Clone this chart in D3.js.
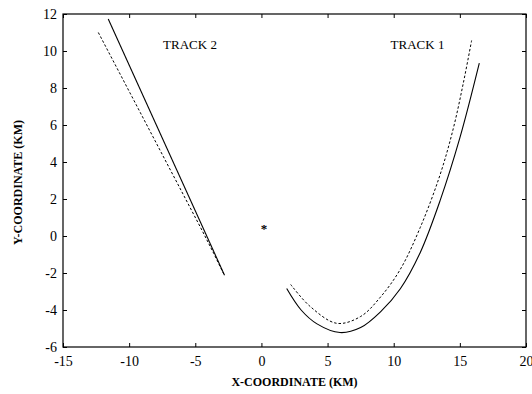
<!DOCTYPE html>
<html><head><meta charset="utf-8">
<script src="https://cdn.jsdelivr.net/npm/d3@7"></script>
<style>body{margin:0;background:#fff}svg{display:block}text{font-family:"Liberation Serif","Times New Roman",serif;fill:#000}</style>
</head><body><svg id="c" width="532" height="394"></svg>
<script>
const xTicks = [-15,-10,-5,0,5,10,15,20];
const yTicks = [-6,-4,-2,0,2,4,6,8,10,12];
// Track 2 (straight segments)
const track2Solid = [[-11.58,11.73],[-2.79,-2.12]];
const track2Dashed = [[-12.33,11.0],[-4.5,0.32],[-3.6,-0.95],[-2.85,-2.05]];
// Track 1 (curved)
const track1Solid = [[1.91,-2.84],[3.0,-4.0],[4.2,-4.75],[5.94,-5.22],[7.5,-4.95],[9.0,-4.1],[10.5,-2.85],[12.0,-0.9],[13.5,1.9],[15.0,5.3],[16.47,9.34]];
const track1Dashed = [[2.21,-2.62],[3.67,-3.8],[5.7,-4.72],[7.5,-4.35],[9.0,-3.3],[10.5,-1.8],[12.0,0.45],[13.5,3.3],[14.5,5.8],[15.26,8.26],[15.89,10.57]];
const star = [[0.2,0.5]];
const labels = [{t:"TRACK 2",x:-5.4,y:10.12},{t:"TRACK 1",x:11.8,y:10.12}];

const svg = d3.select("#c");
const L=63,R=526,T=14,B=347;
const x = d3.scaleLinear().domain([-15,20]).range([L,R]);
const y = d3.scaleLinear().domain([-6,12]).range([B,T]);
const tl = 4;
const fmt = d => String(d);
const axB = d3.axisBottom(x).tickValues(xTicks).tickSize(-tl).tickPadding(9).tickFormat(fmt);
const axL = d3.axisLeft(y).tickValues(yTicks).tickSize(-tl).tickPadding(6).tickFormat(fmt);
const axT = d3.axisTop(x).tickValues(xTicks).tickSize(-tl).tickFormat("");
const axR = d3.axisRight(y).tickValues(yTicks).tickSize(-tl).tickFormat("");
function style(g){g.select(".domain").remove();g.selectAll("line").attr("stroke","#000");g.selectAll("text").attr("font-size",14).attr("fill","#000").style("font-family",'"Liberation Serif",serif');}
svg.append("g").attr("transform",`translate(0,${B})`).call(axB).call(style);
svg.append("g").attr("transform",`translate(${L},0)`).call(axL).call(style);
svg.append("g").attr("transform",`translate(0,${T})`).call(axT).call(style);
svg.append("g").attr("transform",`translate(${R},0)`).call(axR).call(style);
svg.append("rect").attr("x",L).attr("y",T).attr("width",R-L).attr("height",B-T).attr("fill","none").attr("stroke","#000").attr("stroke-width",1.2);

const line = d3.line().x(d=>x(d[0])).y(d=>y(d[1]));
const cline = d3.line().x(d=>x(d[0])).y(d=>y(d[1])).curve(d3.curveCatmullRom.alpha(0.5));
svg.append("path").attr("d",line(track2Solid)).attr("fill","none").attr("stroke","#000").attr("stroke-width",1.1);
svg.append("path").attr("d",line(track2Dashed)).attr("fill","none").attr("stroke","#000").attr("stroke-width",1).attr("stroke-dasharray","2.5,2");
svg.append("path").attr("d",cline(track1Solid)).attr("fill","none").attr("stroke","#000").attr("stroke-width",1.1);
svg.append("path").attr("d",cline(track1Dashed)).attr("fill","none").attr("stroke","#000").attr("stroke-width",1).attr("stroke-dasharray","2.5,2");
svg.selectAll(".star").data(star).enter().append("text").attr("x",d=>x(d[0])).attr("y",d=>y(d[1])+6).attr("text-anchor","middle").attr("font-size",13).attr("font-weight","bold").attr("fill","#000").text("*");
svg.selectAll(".lab").data(labels).enter().append("text").attr("x",d=>x(d.x)).attr("y",d=>y(d.y)).attr("text-anchor","middle").attr("font-size",13).attr("fill","#000").text(d=>d.t);
svg.append("text").attr("x",(L+R)/2).attr("y",386).attr("text-anchor","middle").attr("font-size",12).attr("font-weight","bold").text("X-COORDINATE (KM)");
svg.append("text").attr("transform",`translate(22,${(T+B)/2+2}) rotate(-90)`).attr("text-anchor","middle").attr("font-size",12).attr("font-weight","bold").text("Y-COORDINATE (KM)");
</script></body></html>
